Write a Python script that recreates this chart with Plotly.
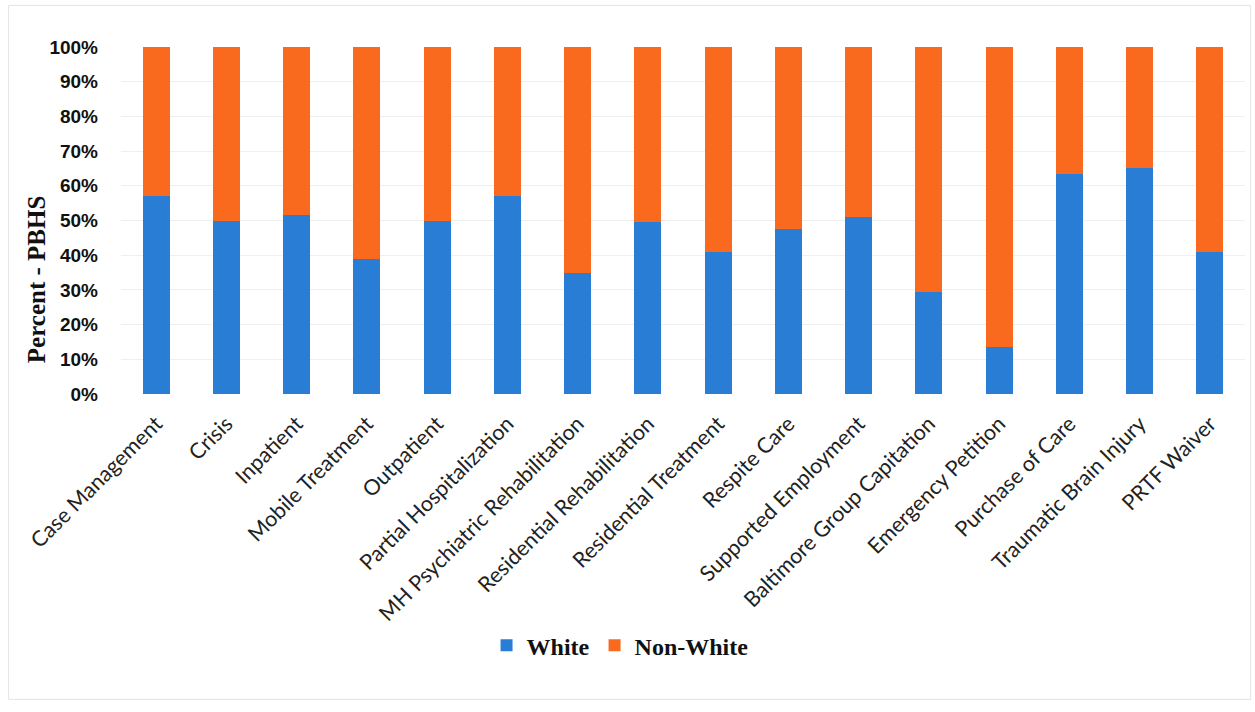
import plotly.graph_objects as go

# Service categories shown on the x axis
categories = [
    "Case Management", "Crisis", "Inpatient", "Mobile Treatment", "Outpatient",
    "Partial Hospitalization", "MH Psychiatric Rehabilitation",
    "Residential Rehabilitation", "Residential Treatment", "Respite Care",
    "Supported Employment", "Baltimore Group Capitation", "Emergency Petition",
    "Purchase of Care", "Traumatic Brain Injury", "PRTF Waiver",
]

# Share of White consumers per service (percent)
white_pct = [57, 50, 51.5, 39, 50, 57, 35, 49.5, 41, 47.5, 51, 29.5, 13.5, 63.5, 65, 41]
# Non-White share completes each bar to 100%
nonwhite_pct = [100 - w for w in white_pct]

y_ticks = [i / 10 for i in range(11)]
y_tick_text = [f"{i * 10}%" for i in range(11)]

BLUE = "#2A7DD4"
ORANGE = "#FA6A1E"

fig = go.Figure()
fig.add_trace(go.Bar(
    x=categories, y=[v / 100 for v in white_pct], name="<b>White</b>",
    marker=dict(color=BLUE, line=dict(width=0)),
))
fig.add_trace(go.Bar(
    x=categories, y=[v / 100 for v in nonwhite_pct], name="<b>Non-White</b>",
    marker=dict(color=ORANGE, line=dict(width=0)),
))

fig.update_layout(
    barmode="stack",
    bargap=0.615,
    width=1255, height=712,
    margin=dict(l=121, r=10, t=47, b=318),
    paper_bgcolor="white", plot_bgcolor="white",
    showlegend=True,
    legend=dict(
        orientation="h", x=0.444, xanchor="center", y=-0.725, yanchor="middle",
        font=dict(family="Liberation Serif, Times New Roman, serif", size=24, color="#111111"),
        itemwidth=30, traceorder="normal",
    ),
    xaxis=dict(
        tickangle=-45,
        tickfont=dict(family="Lato, Liberation Sans, sans-serif", size=21.5, color="#222222"),
        showgrid=False, zeroline=False, showline=False, ticks="",
        ticklabelstandoff=12,
    ),
    yaxis=dict(
        range=[0, 1], tickvals=y_ticks,
        ticktext=[f"<b>{t}</b>" for t in y_tick_text],
        tickfont=dict(family="Liberation Sans, Arial, sans-serif", size=19, color="#111111"),
        showgrid=True, gridcolor="#EFEFEF", gridwidth=1,
        zeroline=False, showline=False, ticks="",
        ticklabelstandoff=22,
    ),
    annotations=[dict(
        text="<b>Percent - PBHS</b>", xref="paper", yref="paper",
        x=-0.075, y=0.33, xanchor="center", yanchor="middle", textangle=-90,
        showarrow=False,
        font=dict(family="Liberation Serif, Times New Roman, serif", size=25, color="#111111"),
    )],
    shapes=[dict(
        type="rect", xref="paper", yref="paper",
        x0=-0.1, x1=1.005, y0=-0.88, y1=1.12,
        line=dict(color="#E4E4E4", width=1), layer="below",
    )],
)

fig.write_html("out.html")
